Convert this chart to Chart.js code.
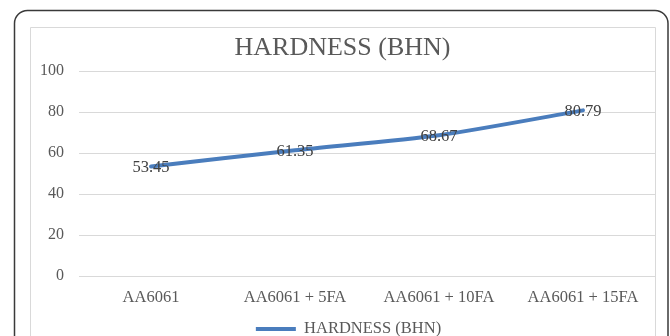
<!DOCTYPE html>
<html>
<head>
<meta charset="utf-8">
<script src="https://cdn.jsdelivr.net/npm/chart.js@4.4.1/dist/chart.umd.min.js"></script>
<style>
html,body{margin:0;padding:0;background:#fff;}
canvas{display:block;}
</style>
</head>
<body>
<canvas id="c" width="670" height="336"></canvas>
<script>
const categories = ["AA6061", "AA6061 + 5FA", "AA6061 + 10FA", "AA6061 + 15FA"];
const hardness = [53.45, 61.35, 68.67, 80.79];
const seriesName = "HARDNESS (BHN)";
const chartTitle = "HARDNESS (BHN)";
const yTicks = [0, 20, 40, 60, 80, 100];

const SERIF = "'Liberation Serif', 'Times New Roman', serif";
const TEXT = '#595959';

const framePlugin = {
  id: 'frame',
  beforeDraw(chart) {
    const ctx = chart.ctx;
    ctx.save();
    ctx.fillStyle = '#ffffff';
    ctx.fillRect(0, 0, chart.width, chart.height);
    ctx.strokeStyle = '#3a3a3a';
    ctx.lineWidth = 1.5;
    const x = 14.5, y = 10.5, w = 668 - 14.5, h = 360, r = 13;
    ctx.beginPath();
    ctx.moveTo(x + r, y);
    ctx.lineTo(x + w - r, y);
    ctx.arcTo(x + w, y, x + w, y + r, r);
    ctx.lineTo(x + w, y + h);
    ctx.moveTo(x, y + h);
    ctx.lineTo(x, y + r);
    ctx.arcTo(x, y, x + r, y, r);
    ctx.stroke();
    ctx.strokeStyle = '#d9d9d9';
    ctx.lineWidth = 1;
    ctx.beginPath();
    ctx.moveTo(30.5, 360);
    ctx.lineTo(30.5, 27.5);
    ctx.lineTo(655.5, 27.5);
    ctx.lineTo(655.5, 360);
    ctx.stroke();
    ctx.restore();
  }
};

const legendShift = {
  id: 'legendShift',
  afterLayout(chart) {
    if (chart.legend) { chart.legend.left += 6; chart.legend.right += 6; }
  }
};

const labelPlugin = {
  id: 'valueLabels',
  afterDatasetsDraw(chart) {
    const ctx = chart.ctx;
    const meta = chart.getDatasetMeta(0);
    ctx.save();
    ctx.font = "16.5px " + SERIF;
    ctx.fillStyle = '#404040';
    ctx.textAlign = 'center';
    ctx.textBaseline = 'middle';
    meta.data.forEach((pt, i) => {
      ctx.fillText(hardness[i].toFixed(2), pt.x, pt.y + 1);
    });
    ctx.restore();
  }
};

new Chart(document.getElementById('c'), {
  type: 'line',
  data: {
    labels: categories,
    datasets: [{
      label: seriesName,
      data: hardness,
      borderColor: '#4a7dbd',
      backgroundColor: '#4a7dbd',
      borderWidth: 4,
      pointRadius: 0,
      pointHoverRadius: 0,
      tension: 0.25,
      fill: false,
      borderCapStyle: 'round',
      pointStyle: 'line'
    }]
  },
  options: {
    responsive: false,
    animation: false,
    events: [],
    layout: { padding: { left: 30, right: 15, top: 0, bottom: 0 } },
    scales: {
      x: {
        offset: true,
        grid: { display: false, drawTicks: false },
        border: { display: false },
        ticks: { color: TEXT, font: { family: SERIF, size: 16.5, lineHeight: 1.2 }, padding: 12, maxRotation: 0, autoSkip: false },
        afterFit(s) { s.height = 30; }
      },
      y: {
        min: 0, max: 100,
        afterBuildTicks(s) { s.ticks = yTicks.map(v => ({ value: v })); },
        grid: { color: '#d9d9d9', lineWidth: 1, drawTicks: false },
        border: { display: false },
        ticks: { color: TEXT, font: { family: SERIF, size: 16 }, padding: 15 },
        afterFit(s) { s.width = 49; }
      }
    },
    plugins: {
      title: {
        display: true,
        text: chartTitle,
        color: TEXT,
        font: { family: SERIF, size: 26, weight: 'normal', lineHeight: 1.2 },
        padding: { top: 32.4, bottom: 7.4 }
      },
      legend: {
        position: 'bottom',
        maxHeight: 30,
        labels: {
          usePointStyle: true,
          pointStyleWidth: 40,
          padding: 14.75,
          color: TEXT,
          font: { family: SERIF, size: 16.5 }
        }
      },
      tooltip: { enabled: false }
    }
  },
  plugins: [framePlugin, legendShift, labelPlugin]
});
</script>
</body>
</html>
